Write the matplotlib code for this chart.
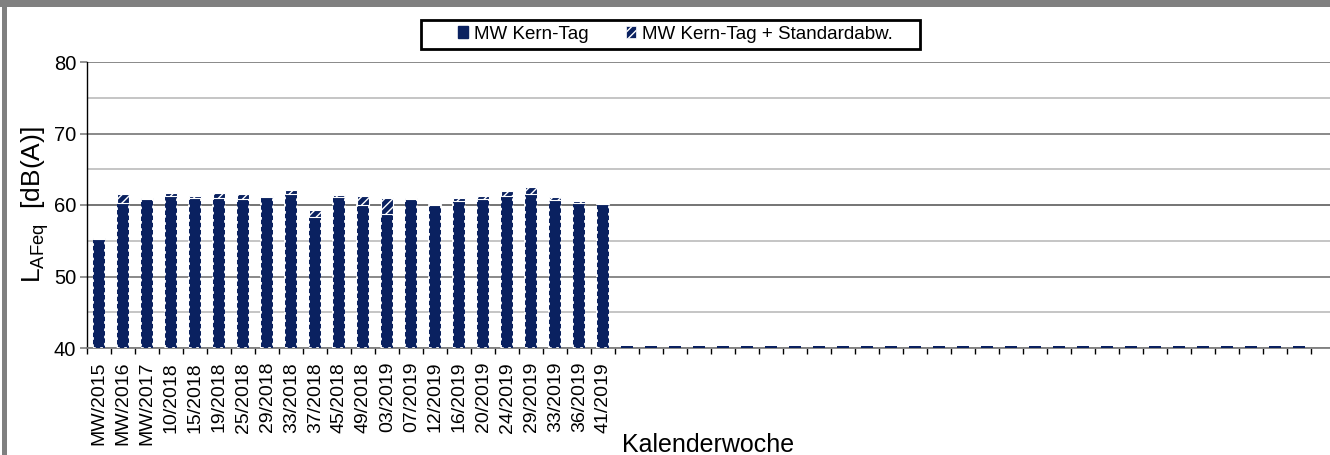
import matplotlib
matplotlib.use("Agg")
import matplotlib.pyplot as plt
from matplotlib.patches import Patch, Rectangle
import numpy as np

plt.rcParams['font.family'] = ['Liberation Sans', 'DejaVu Sans']
plt.rcParams['hatch.linewidth'] = 1.0

# Kalenderwochen mit Messung
kw = ['MW/2015', 'MW/2016', 'MW/2017', '10/2018', '15/2018', '19/2018', '25/2018',
      '29/2018', '33/2018', '37/2018', '45/2018', '49/2018', '03/2019', '07/2019',
      '12/2019', '16/2019', '20/2019', '24/2019', '29/2019', '33/2019', '36/2019',
      '41/2019']
# Mittelwert Kern-Tag [dB(A)]
mw_kern = [55.3, 60.3, 60.9, 61.2, 61.0, 61.0, 60.8, 61.1, 61.6, 58.3, 61.1,
           60.0, 58.8, 60.9, 60.0, 60.6, 60.8, 61.3, 61.5, 60.7, 60.3, 60.2]
# Mittelwert + Standardabweichung [dB(A)]
mw_std = [55.4, 61.5, 61.0, 61.7, 61.3, 61.7, 61.6, 61.2, 62.1, 59.3, 61.4,
          61.3, 61.0, 61.0, 60.1, 61.0, 61.2, 61.9, 62.5, 61.1, 60.6, 60.3]
# noch leere Wochen im Diagramm
n_leer = 29

navy = '#0A2160'
y_min = 40

mw_kern = np.array(mw_kern)
mw_std = np.array(mw_std)
x = np.arange(len(kw))
x_leer = np.arange(len(kw), len(kw) + n_leer)
n_ges = len(kw) + n_leer

fig = plt.figure(figsize=(13.3, 4.55), dpi=100)
ax = fig.add_axes([87.3 / 1330, 107 / 455, 1248 / 1330, 286 / 455])

# Balken
ax.bar(x, mw_kern - y_min, bottom=y_min, width=0.5, color=navy,
       edgecolor='white', linewidth=1.3, linestyle=(0, (1.5, 2.5)), zorder=3)
ax.bar(x, mw_std - mw_kern, bottom=mw_kern, width=0.5, color=navy,
       edgecolor='white', hatch='////', linewidth=0.8, zorder=3)
ax.bar(x_leer, 0.3, bottom=y_min, width=0.5, color=navy, zorder=3)

ax.set_ylim(40, 80)
ax.set_xlim(-0.5, n_ges + 0.5)
ax.set_yticks(np.arange(40, 81, 10))
ax.set_yticks(np.arange(45, 80, 10), minor=True)
ax.yaxis.grid(True, which='major', color='#808080', linewidth=1.3, zorder=0)
ax.yaxis.grid(True, which='minor', color='#C0C0C0', linewidth=1.3, zorder=0)
ax.axhline(60, color='black', linewidth=1.2, zorder=1)

ax.set_xticks(np.arange(n_ges))
ax.set_xticklabels(kw + [''] * n_leer, rotation=90, fontsize=14)
ax.set_xticks(np.arange(-0.5, n_ges + 0.5, 1), minor=True)
ax.tick_params(axis='x', which='major', length=0, pad=10)
ax.tick_params(axis='x', which='minor', length=4, color='black', width=1)
ax.tick_params(axis='y', which='major', labelsize=14.5, length=5, color='#808080', width=1.2, pad=3)
ax.tick_params(axis='y', which='minor', length=0)

for s in ['top', 'right']:
    ax.spines[s].set_visible(False)
ax.spines['left'].set_color('black')
ax.spines['left'].set_linewidth(1)
ax.spines['bottom'].set_color('#808080')
ax.spines['bottom'].set_linewidth(1.3)

ax.set_ylabel(r'L$_{\mathregular{AFeq}}$  [dB(A)]', fontsize=19, labelpad=2)
fig.text(622 / 1330, 3 / 455, 'Kalenderwoche', fontsize=18, ha='left', va='baseline')

# Legende mit eigenem Rahmen
handles = [Patch(facecolor=navy, edgecolor=navy),
           Patch(facecolor=navy, edgecolor='white', hatch='////', linewidth=0.5)]
fig.legend(handles, ['MW Kern-Tag', 'MW Kern-Tag + Standardabw.'],
           loc='center', bbox_to_anchor=(675 / 1330, 1 - 34.5 / 455), ncol=2,
           fontsize=13.5, frameon=False, handlelength=0.55, handleheight=0.6,
           handletextpad=0.3, columnspacing=2.0)
fig.patches.append(Rectangle((421 / 1330, 1 - 49 / 455), 499 / 1330, 29 / 455,
                             transform=fig.transFigure, fill=False,
                             edgecolor='black', linewidth=2))

# grauer Rahmen des Diagrammbereichs
fig.patches.append(Rectangle((0, 1 - 7 / 455), 1, 7 / 455, transform=fig.transFigure,
                             facecolor='#808080', edgecolor='none'))
fig.patches.append(Rectangle((2 / 1330, 0), 5 / 1330, 1, transform=fig.transFigure,
                             facecolor='#808080', edgecolor='none'))

fig.savefig('out.png', dpi=100)
